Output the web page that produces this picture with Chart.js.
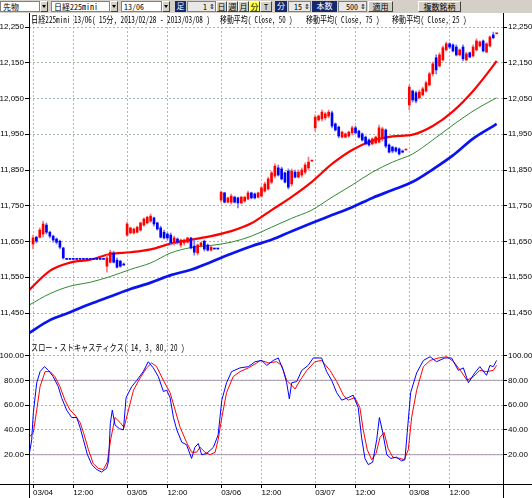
<!DOCTYPE html>
<html lang="ja">
<head>
<meta charset="utf-8">
<title>日経225mini 13/06</title>
<script src="https://cdn.jsdelivr.net/npm/chart.js@4.4.1/dist/chart.umd.min.js"></script>
<style>
  html, body { margin: 0; padding: 0; }
  body {
    width: 532px; height: 498px; position: relative; overflow: hidden; background: #fff; color: #000;
    font-family: "Noto Sans Mono CJK JP", "Noto Sans CJK JP", sans-serif;
  }
  canvas { position: absolute; left: 0; }
  #price { top: 14px; }
  #stoch { top: 344px; }
  .txt { position: absolute; white-space: nowrap; font-size: 9px; line-height: 10px; transform-origin: 0 50%; z-index: 3; }
  .rule { position: absolute; background: #000; z-index: 4; }
  #bar { position: absolute; left: 0; top: 0; width: 532px; height: 13px; background: #d4d0c8; }
  #bar > div { position: absolute; top: 1px; height: 11px; box-sizing: border-box; font-size: 8px; line-height: 9px; white-space: nowrap; overflow: hidden; }
  #bar .sel { background: #fff; border: 1px solid #808080; padding-left: 2px; }
  #bar .drop { background: #d4d0c8; border: 1px solid; border-color: #fff #404040 #404040 #fff; }
  #bar .drop::after { content: ""; position: absolute; left: 1px; top: 3px; border: 2px solid transparent; border-top: 3px solid #000; border-bottom: 0; }
  #bar .dark { background: #14286e; color: #fff; text-align: center; }
  #bar .spin { background: #e8e8e8; border: 1px solid #808080; text-align: right; padding-right: 8px; }
  #bar .spin::after { content: "⇕"; position: absolute; right: 0; top: 0; font-size: 7px; }
  #bar .btn { background: #d4d0c8; border: 1px solid; border-color: #fff #404040 #404040 #fff; text-align: center; }
  #bar .on { background: #ffff40; }
</style>
</head>
<body>
<div id="bar">
  <div class="sel" style="left:0;width:40px">先物</div>
  <div class="drop" style="left:40px;width:8px"></div>
  <div class="sel" style="left:51px;width:59px">日経225mini</div>
  <div class="drop" style="left:110px;width:8px"></div>
  <div class="sel" style="left:121px;width:41px">13/06</div>
  <div class="drop" style="left:162px;width:8px"></div>
  <div class="dark" style="left:175px;width:11px">足</div>
  <div class="spin" style="left:187px;width:29px">1</div>
  <div class="btn" style="left:216px;width:11px">日</div>
  <div class="btn" style="left:227px;width:11px">週</div>
  <div class="btn" style="left:238px;width:11px">月</div>
  <div class="btn on" style="left:249px;width:11px">分</div>
  <div class="btn" style="left:260px;width:12px">T</div>
  <div class="dark" style="left:275px;width:12px">分</div>
  <div class="spin" style="left:288px;width:23px">15</div>
  <div class="dark" style="left:312px;width:25px">本数</div>
  <div class="spin" style="left:338px;width:29px">500</div>
  <div class="btn" style="left:368px;width:25px">適用</div>
  <div class="btn" style="left:418px;width:43px">複数銘柄</div>
</div>

<canvas id="price" width="532" height="330"></canvas>
<canvas id="stoch" width="532" height="154"></canvas>

<span class="txt" style="left:31px;top:15px" data-w="179">日経225mini 13/06( 15分, 2013/02/28 - 2013/03/08 )</span>
<span class="txt" style="left:220px;top:15px" data-w="73">移動平均( Close, 50 )</span>
<span class="txt" style="left:306px;top:15px" data-w="74">移動平均( Close, 75 )</span>
<span class="txt" style="left:392px;top:15px" data-w="75">移動平均( Close, 25 )</span>
<span class="txt" style="left:31px;top:343px" data-w="154">スロー・ストキャスティクス( 14, 3, 80, 20 )</span>

<div class="rule" style="left:29px;top:13px;width:1px;height:485px"></div>
<div class="rule" style="left:503px;top:13px;width:1px;height:485px"></div>
<div class="rule" style="left:0;top:484px;width:532px;height:1px"></div>

<script>
// 15分足 (03/04 - 03/08)
const open = [11643,11662,11662,11671,11696,11676,11665,11657,11651,11632,
  11600,11600,11600,11600,11600,11600,11600,11600,11600,11600,11600,11600,
  11581,11592,11618,11598,11595,11587,
  11668,11674,11674,11676,11682,11696,11702,11707,11716,11702,11688,11676,11671,11668,
  11646,11657,11640,11646,11648,11660,11637,11618,11637,11651,11640,11626,11629,11629,
  11766,11786,11760,11760,11774,11772,11758,11763,11769,11786,11783,11774,11777,11791,
  11797,11816,11833,11856,11853,11842,11847,11811,11844,11830,11836,11844,11856,11875,
  11968,11990,11993,11996,12001,12010,11979,11970,11942,11942,11945,11954,11968,11959,
  11951,11942,11934,11923,11926,11928,11937,11962,11920,11914,11912,11909,11903,11906,
  12032,12071,12066,12052,12060,12071,12088,12119,12164,12141,12158,12186,12203,12200,
  12194,12172,12194,12158,12178,12169,12186,12197,12211,12180,12197,12228,12231];
const high = [11668,11665,11688,11707,11702,11679,11668,11660,11654,11634,
  11600,11600,11600,11600,11600,11600,11600,11600,11600,11600,11600,11600,
  11612,11626,11623,11604,11598,11590,
  11704,11690,11688,11693,11704,11716,11721,11727,11718,11704,11693,11682,11674,11674,
  11665,11660,11657,11657,11662,11662,11654,11643,11648,11654,11643,11637,11629,11629,
  11791,11788,11774,11783,11777,11774,11777,11777,11791,11788,11786,11788,11805,11816,
  11830,11847,11867,11864,11858,11844,11853,11853,11850,11850,11856,11870,11886,11875,
  12004,12004,12018,12012,12018,12015,11982,11973,11959,11954,11959,11973,11973,11962,
  11954,11945,11937,11940,11945,11976,11970,11965,11923,11917,11914,11912,11906,11906,
  12088,12074,12071,12074,12082,12099,12124,12152,12172,12178,12197,12208,12206,12203,
  12200,12189,12200,12180,12180,12200,12217,12211,12214,12206,12225,12236,12231];
const low = [11629,11646,11660,11662,11671,11660,11648,11643,11629,11601,
  11600,11600,11600,11600,11600,11600,11600,11600,11600,11600,11600,11600,
  11564,11590,11590,11576,11578,11584,
  11665,11671,11671,11674,11679,11693,11699,11704,11693,11682,11660,11657,11654,11640,
  11640,11643,11634,11640,11646,11629,11612,11612,11634,11623,11623,11623,11629,11629,
  11760,11758,11758,11755,11758,11744,11755,11760,11766,11769,11769,11772,11774,11788,
  11794,11811,11828,11833,11822,11814,11797,11805,11828,11828,11830,11839,11850,11875,
  11959,11987,11987,11990,11996,11968,11959,11940,11940,11940,11942,11948,11951,11940,
  11931,11920,11917,11920,11923,11926,11931,11912,11898,11898,11900,11892,11898,11906,
  12018,12040,12038,12049,12057,12068,12085,12113,12119,12138,12155,12183,12189,12180,
  12169,12169,12155,12155,12164,12166,12183,12194,12180,12178,12194,12217,12231];
const close = [11660,11651,11682,11699,11676,11665,11654,11648,11634,11604,
  11600,11600,11600,11600,11600,11600,11600,11600,11600,11600,11600,11600,
  11604,11620,11592,11578,11581,11584,
  11699,11688,11685,11690,11702,11713,11718,11721,11699,11685,11662,11660,11660,11646,
  11660,11648,11654,11654,11660,11632,11620,11640,11646,11629,11626,11634,11629,11629,
  11788,11760,11772,11777,11760,11758,11774,11774,11786,11772,11772,11786,11800,11811,
  11825,11842,11861,11836,11825,11816,11802,11847,11830,11844,11850,11864,11872,11875,
  11998,12001,12012,12007,12012,11973,11962,11945,11956,11951,11956,11968,11954,11942,
  11934,11923,11920,11937,11942,11968,11965,11917,11900,11903,11903,11895,11900,11906,
  12082,12046,12043,12068,12077,12094,12119,12147,12130,12172,12192,12203,12194,12183,
  12172,12186,12161,12175,12166,12194,12211,12208,12183,12203,12222,12220,12231];

// 移動平均 (bar position, value)
const maAt = [-1.2,5,11,17,23,29,35,41,47,53,59,65,71,77,83,89,95,101,107,113,119,125,131,137,138];
const ma25 = [11514,11568,11591,11599,11615,11620,11628,11644,11655,11665,11679,11701,11738,11775,11817,11867,11906,11932,11944,11949,11973,12014,12071,12142,12155];
const ma50 = [11472,11504,11525,11536,11552,11572,11590,11618,11633,11639,11648,11665,11690,11715,11738,11774,11808,11844,11872,11895,11934,11976,12015,12047,12052];
const ma75 = [11394,11430,11452,11475,11496,11517,11535,11556,11571,11593,11616,11637,11655,11679,11702,11724,11746,11772,11794,11817,11852,11891,11938,11973,11979];

// スロー・ストキャスティクス
const kAt = [-1.2,-0.4,0.1,0.6,1.1,2.1,3.4,4.6,6.0,7.5,8.5,10.0,11.5,13.0,14.0,15.0,16.2,17.5,19.0,20.4,
  21.9,22.5,23.0,23.6,24.4,25.7,26.9,27.7,29.4,30.9,32.8,34.3,35.8,37.3,38.8,39.8,40.8,41.8,42.8,44.3,
  45.7,47.2,48.2,49.2,50.2,51.7,53.7,55.1,56.2,57.6,59.1,61.6,64.1,66.1,68.1,69.6,71.5,73.0,74.5,75.5,
  76.3,77.0,78.5,80.0,81.9,83.4,85.9,87.4,88.9,90.4,91.9,93.8,95.3,96.8,97.8,98.8,99.8,101.1,102.3,103.1,
  104.1,105.3,106.5,108.2,109.7,110.7,111.4,112.4,114.2,116.2,118.2,120.1,122.6,124.6,126.6,128.1,129.6,131.5,133.0,135.0,
  136.0,137.0,138.0];
const kVal = [19,32,54,66,78,87,91,88,83,75,66,56,50,50,42,32,20,12,8,6,
  9,15,45,56,44,41,40,66,75,80,87,95,90,83,71,72,66,50,40,30,
  28,17,26,29,20,21,26,36,64,78,87,90,91,95,96,92,96,98,88,78,
  65,78,79,88,92,98,98,87,80,70,64,66,68,58,34,17,12,14,32,50,
  38,20,17,18,15,16,38,70,86,96,99,95,98,98,88,90,78,86,91,84,
  92,91,96];
const dAt = [-1.2,0.1,1.1,2.1,3.6,5.1,6.5,8.0,9.5,11.0,12.5,14.0,15.0,16.5,17.9,19.4,20.9,22.1,23.1,24.4,
  25.9,27.1,28.4,29.9,31.9,33.8,35.3,36.8,38.8,40.8,42.3,43.8,45.7,47.2,48.7,49.7,51.2,52.7,54.2,55.1,
  56.2,57.6,59.6,61.6,64.1,66.6,67.6,69.1,70.0,72.5,74.0,75.5,77.0,78.0,79.5,81.5,83.9,85.9,88.4,90.4,
  92.4,93.8,95.8,97.3,98.3,99.5,100.8,102.1,103.3,104.5,105.7,107.1,109.2,110.5,111.7,112.7,114.2,116.2,118.2,120.7,
  123.2,125.2,127.2,129.2,131.1,133.0,135.0,137.0,138.0];
const dVal = [34,38,56,75,87,87,83,75,64,56,52,46,38,24,13,9,8,14,32,50,
  46,42,56,72,82,90,94,91,80,70,56,42,30,22,22,26,22,20,22,32,
  50,70,83,87,90,94,96,95,94,95,92,80,76,73,80,88,95,96,88,79,
  68,64,66,58,40,24,16,21,34,38,25,18,17,16,24,50,72,91,96,98,
  99,95,88,80,83,88,87,88,92];
const stochLevels = [80, 20];

// 目盛り
const priceTicks = [11450,11550,11650,11750,11850,11950,12050,12150,12250];
const stochTicks = [20,40,60,80,100];
const xTickAt = [0,12,28,40,56,68,84,96,112,124];
const xTickLabels = ['03/04','12:00','03/05','12:00','03/06','12:00','03/07','12:00','03/08','12:00'];

const X_MIN = -1.2, X_MAX = 139.9;
const GRID_H = '#a8b8a8', GRID_V = '#bcb0c4';
const tickFont = { family: 'Liberation Sans', size: 8 };

// 陽線 / 陰線
const up = [];
for (let i = 0; i < close.length; i++) {
  if (close[i] > open[i]) up.push(true);
  else if (close[i] < open[i]) up.push(false);
  else if (i === 0) up.push(true);
  else up.push(close[i] > close[i - 1] ? true : close[i] < close[i - 1] ? false : up[i - 1]);
}

function sideAxis(position, min, max, ticks, fmt, gridOn) {
  return {
    type: 'linear', position: position, min: min, max: max,
    afterBuildTicks: s => { s.ticks = ticks.map(v => ({ value: v })); },
    afterFit: s => { s.width = 29; s.paddingTop = 0; s.paddingBottom = 0; },
    border: { display: false, dash: [2, 2] },
    grid: { drawOnChartArea: gridOn, color: GRID_H, tickColor: '#000', tickLength: 4, tickWidth: 1 },
    ticks: { callback: fmt, padding: 1, color: '#000', font: tickFont, autoSkip: false }
  };
}

function timeAxis(labels) {
  return {
    type: 'linear', min: X_MIN, max: X_MAX, offset: false,
    afterBuildTicks: s => { s.ticks = xTickAt.map(v => ({ value: v })); },
    afterFit: s => { s.height = labels ? 14 : 0; s.paddingLeft = 0; s.paddingRight = 0; },
    border: { display: false, dash: [2, 2] },
    grid: { offset: false, color: GRID_V, drawTicks: labels, tickLength: 4, tickColor: '#000' },
    ticks: {
      display: labels, align: 'start', maxRotation: 0, autoSkip: false, padding: 0,
      color: '#000', font: tickFont,
      callback: (v, i) => xTickLabels[i]
    }
  };
}

const fmtPrice = v => v.toLocaleString('en-US');
const fmtStoch = v => v.toFixed(2);
const idx = open.map((_, i) => i);

new Chart(document.getElementById('price'), {
  type: 'bar',
  data: {
    datasets: [
      {
        label: 'body', order: 0, grouped: false, barThickness: 2, minBarLength: 1,
        data: idx.map(i => ({ x: i, y: [open[i], close[i]] })),
        backgroundColor: up.map(u => u ? '#ff0000' : '#0000ff')
      },
      {
        label: 'wick', order: 1, grouped: false, barThickness: 1,
        data: idx.map(i => ({ x: i, y: [low[i], high[i]] })),
        backgroundColor: up.map(u => u ? '#ff7878' : '#7878ff')
      },
      {
        type: 'line', label: '移動平均( Close, 25 )', order: 2,
        data: maAt.map((x, j) => ({ x: x, y: ma25[j] })),
        borderColor: '#ff0000', borderWidth: 2.2, pointRadius: 0, cubicInterpolationMode: 'monotone'
      },
      {
        type: 'line', label: '移動平均( Close, 50 )', order: 3,
        data: maAt.map((x, j) => ({ x: x, y: ma50[j] })),
        borderColor: '#2f8a2f', borderWidth: 1, pointRadius: 0, cubicInterpolationMode: 'monotone'
      },
      {
        type: 'line', label: '移動平均( Close, 75 )', order: 4,
        data: maAt.map((x, j) => ({ x: x, y: ma75[j] })),
        borderColor: '#0a14f0', borderWidth: 2.7, pointRadius: 0, cubicInterpolationMode: 'monotone'
      }
    ]
  },
  options: {
    responsive: false, animation: false, events: [],
    layout: { padding: { top: 1, bottom: 0, left: 0, right: 0 } },
    plugins: { legend: { display: false }, tooltip: { enabled: false } },
    scales: {
      x: timeAxis(false),
      yL: sideAxis('left', 11363.3, 12283.6, priceTicks, fmtPrice, false),
      y: sideAxis('right', 11363.3, 12283.6, priceTicks, fmtPrice, true)
    }
  }
});

new Chart(document.getElementById('stoch'), {
  type: 'line',
  data: {
    datasets: [
      {
        label: '%K', order: 0,
        data: kAt.map((x, j) => ({ x: x, y: kVal[j] })),
        borderColor: '#0000ff', borderWidth: 1, pointRadius: 0
      },
      {
        label: '%D', order: 1,
        data: dAt.map((x, j) => ({ x: x, y: dVal[j] })),
        borderColor: '#ff0000', borderWidth: 1, pointRadius: 0
      },
      ...stochLevels.map(v => ({
        label: 'level', order: 2,
        data: [{ x: X_MIN, y: v }, { x: X_MAX, y: v }],
        borderColor: '#a898b0', borderWidth: 1, pointRadius: 0
      }))
    ]
  },
  options: {
    responsive: false, animation: false, events: [],
    layout: { padding: { top: 1, bottom: 0, left: 0, right: 0 } },
    plugins: { legend: { display: false }, tooltip: { enabled: false } },
    scales: {
      x: timeAxis(true),
      yL: sideAxis('left', -3.63, 108.47, stochTicks, fmtStoch, false),
      y: sideAxis('right', -3.63, 108.47, stochTicks, fmtStoch, true)
    }
  }
});

// 見出しの幅を合わせる
document.querySelectorAll('[data-w]').forEach(el => {
  const w = +el.dataset.w, n = el.scrollWidth;
  if (n > 0) el.style.transform = 'scaleX(' + (w / n).toFixed(3) + ')';
});
</script>
</body>
</html>
